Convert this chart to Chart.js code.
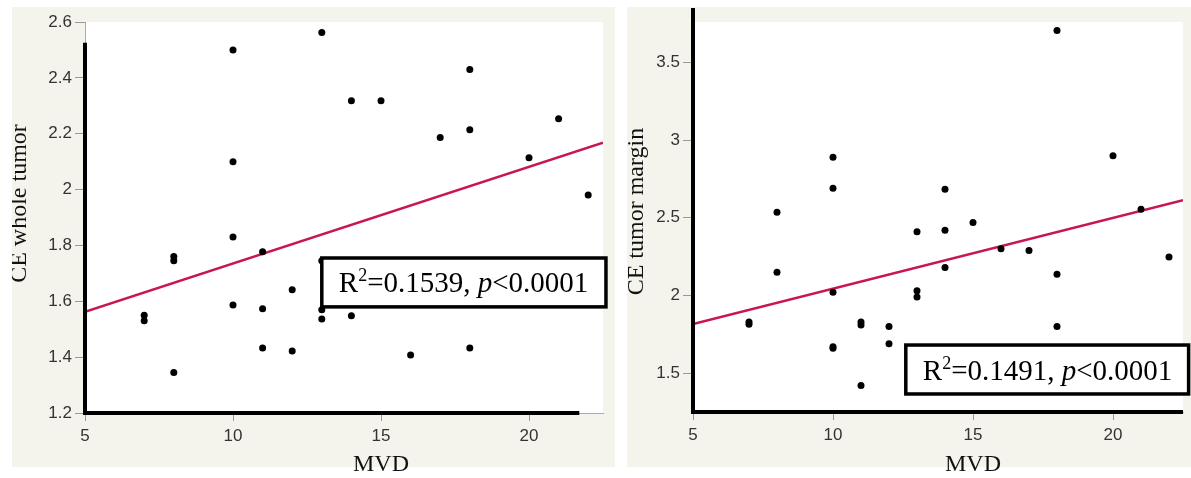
<!DOCTYPE html>
<html>
<head>
<meta charset="utf-8">
<script src="https://cdn.jsdelivr.net/npm/chart.js@4"></script>
<style>
  body { margin: 0; background: #fff; width: 1191px; height: 478px; overflow: hidden; position: relative; }
  .panel { position: absolute; top: 7px; height: 460px; background: #f4f4ec; }
  canvas { position: absolute; top: 0; }
</style>
</head>
<body>
<div class="panel" style="left:12px;width:603px"></div>
<div class="panel" style="left:627px;width:564px"></div>
<canvas id="left" width="603" height="478" style="left:12px"></canvas>
<canvas id="right" width="564" height="478" style="left:627px"></canvas>
<script>
// tick labels
const xTicks = [5, 10, 15, 20]
const wholeYTicks = [1.2, 1.4, 1.6, 1.8, 2, 2.2, 2.4, 2.6]
const marginYTicks = [1.5, 2, 2.5, 3, 3.5]

// CE whole tumor vs MVD
const wholeMVD = [7, 7, 8, 8, 8, 10, 10, 10, 10, 11, 11, 11, 12, 12, 13, 13, 13, 13, 14, 14, 15, 16, 17, 18, 18, 18, 20, 21, 22]
const wholeCE = [1.55, 1.53, 1.76, 1.745, 1.345, 2.50, 2.10, 1.83, 1.587, 1.777, 1.573, 1.433, 1.641, 1.422, 2.562, 1.745, 1.57, 1.537, 2.318, 1.548, 2.318, 1.408, 2.186, 2.43, 2.214, 1.433, 2.114, 2.254, 1.981]

// CE tumor margin vs MVD
const marginMVD = [7, 7, 8, 8, 10, 10, 10, 10, 10, 11, 11, 11, 12, 12, 13, 13, 13, 14, 14, 14, 15, 16, 17, 18, 18, 18, 20, 21, 22]
const marginCE = [1.83, 1.815, 2.536, 2.15, 2.89, 2.69, 2.02, 1.67, 1.66, 1.83, 1.81, 1.42, 1.80, 1.69, 2.41, 2.03, 1.99, 2.684, 2.42, 2.18, 2.47, 2.30, 2.29, 3.706, 2.137, 1.80, 2.90, 2.555, 2.247]

// fitted lines (ends)
const fitX = [5, 22.5]
const wholeFit = [1.562, 2.168]
const marginFit = [1.816, 2.613]

const wholeStat = ['0.1539', '0.0001']
const marginStat = ['0.1491', '0.0001']

const tickFont = { family: '"Liberation Sans", Arial, sans-serif', size: 17 }
const serif = '"Liberation Serif", "Times New Roman", serif'

function pts(xs, ys) {
    return xs.map((x, i) => ({ x: x, y: ys[i] }))
}

const decor = {
    id: 'decor',
    beforeDraw(chart) {
        const a = chart.chartArea
        const ctx = chart.ctx
        ctx.save()
        ctx.fillStyle = '#ffffff'
        ctx.fillRect(a.left, a.top, a.right - a.left, a.bottom - a.top)
        ctx.restore()
    },
    afterDatasetsDraw(chart, args, o) {
        const ctx = chart.ctx
        const x = chart.scales.x, y = chart.scales.y
        ctx.save()
        ctx.strokeStyle = '#000'
        ctx.lineWidth = 4
        ctx.lineCap = 'butt'
        // thick axis strokes
        ctx.beginPath()
        ctx.moveTo(x.getPixelForValue(o.vx), y.getPixelForValue(o.vy[0]))
        ctx.lineTo(x.getPixelForValue(o.vx), y.getPixelForValue(o.vy[1]))
        ctx.stroke()
        ctx.beginPath()
        ctx.moveTo(x.getPixelForValue(o.hx[0]) - 2, y.getPixelForValue(o.hy))
        ctx.lineTo(x.getPixelForValue(o.hx[1]), y.getPixelForValue(o.hy))
        ctx.stroke()

        // stat box
        const bx0 = x.getPixelForValue(o.box[0]), bx1 = x.getPixelForValue(o.box[1])
        const by0 = y.getPixelForValue(o.box[2]), by1 = y.getPixelForValue(o.box[3])
        ctx.fillStyle = '#fff'
        ctx.fillRect(bx0, by0, bx1 - bx0, by1 - by0)
        ctx.lineWidth = 3.5
        ctx.strokeRect(bx0, by0, bx1 - bx0, by1 - by0)

        let tx = bx0 + 17
        const ty = (by0 + by1) / 2 + 10
        ctx.fillStyle = '#000'
        ctx.textBaseline = 'alphabetic'
        ctx.textAlign = 'left'
        const parts = [
            ['R', '29px ' + serif, 0],
            ['2', '18px ' + serif, -11],
            ['=' + o.stat[0] + ', ', '29px ' + serif, 0],
            ['p', 'italic 29px ' + serif, 0],
            ['<' + o.stat[1], '29px ' + serif, 0]
        ]
        parts.forEach(p => {
            ctx.font = p[1]
            ctx.fillText(p[0], tx, ty + p[2])
            tx += ctx.measureText(p[0]).width
        })
        ctx.restore()
    },
    afterDraw(chart, args, o) {
        const ctx = chart.ctx
        const x = chart.scales.x, y = chart.scales.y
        ctx.save()
        ctx.fillStyle = '#111'
        ctx.font = '24px ' + serif
        ctx.textAlign = 'center'
        ctx.textBaseline = 'middle'
        ctx.fillText(o.xTitle, x.getPixelForValue(15), x.bottom - 13)
        ctx.translate(y.left + o.yTitleX, y.getPixelForValue(o.yTitleAt))
        ctx.rotate(-Math.PI / 2)
        ctx.fillText(o.yTitle, 0, 0)
        ctx.restore()
    }
}

function makeChart(id, d) {
    new Chart(document.getElementById(id), {
        type: 'scatter',
        data: {
            datasets: [
                {
                    data: pts(d.xs, d.ys),
                    backgroundColor: '#000',
                    borderColor: '#000',
                    pointRadius: 3.5,
                    pointBorderWidth: 0
                },
                {
                    type: 'line',
                    data: pts(fitX, d.fit),
                    borderColor: '#c8174f',
                    borderWidth: 2.5,
                    pointRadius: 0,
                    showLine: true,
                    fill: false
                }
            ]
        },
        options: {
            responsive: false,
            devicePixelRatio: 1,
            animation: false,
            layout: { padding: { top: 22, right: d.padRight, left: 0, bottom: 0 } },
            plugins: {
                legend: { display: false },
                tooltip: { enabled: false },
                decor: d.decor
            },
            scales: {
                x: {
                    type: 'linear',
                    min: 5,
                    max: 22.5,
                    afterBuildTicks: s => { s.ticks = xTicks.map(v => ({ value: v })) },
                    afterFit: s => { s.height = d.xHeight },
                    grid: { drawOnChartArea: false, color: '#999', tickLength: 8 },
                    border: { color: '#aaa', width: 1 },
                    ticks: { font: tickFont, color: '#333', padding: 5, autoSkip: false, maxRotation: 0, callback: v => String(v) }
                },
                y: {
                    min: d.yMin,
                    max: d.yMax,
                    afterBuildTicks: s => { s.ticks = d.yTicks.map(v => ({ value: v })) },
                    afterFit: s => { s.width = d.yWidth },
                    grid: { drawOnChartArea: false, color: '#999', tickLength: 10 },
                    border: { color: '#aaa', width: 1 },
                    ticks: { font: tickFont, color: '#333', padding: 3, autoSkip: false, callback: v => String(v) }
                }
            }
        },
        plugins: [decor]
    })
}

makeChart('left', {
    xs: wholeMVD, ys: wholeCE, fit: wholeFit,
    yMin: 1.2, yMax: 2.6, yTicks: wholeYTicks,
    yWidth: 73, xHeight: 65, padRight: 12,
    decor: {
        vx: 5, vy: [1.2, 2.526], hx: [5, 21.7], hy: 1.2,
        box: [13, 22.6, 1.755, 1.58], stat: wholeStat,
        xTitle: 'MVD', yTitle: 'CE whole tumor', yTitleX: 8, yTitleAt: 1.95
    }
})

makeChart('right', {
    xs: marginMVD, ys: marginCE, fit: marginFit,
    yMin: 1.25, yMax: 3.76, yTicks: marginYTicks,
    yWidth: 66, xHeight: 66, padRight: 8,
    decor: {
        vx: 5, vy: [1.25, 3.85], hx: [5, 22.5], hy: 1.25,
        box: [12.6, 22.7, 1.681, 1.366], stat: marginStat,
        xTitle: 'MVD', yTitle: 'CE tumor margin', yTitleX: 10, yTitleAt: 2.54
    }
})
</script>
</body>
</html>
